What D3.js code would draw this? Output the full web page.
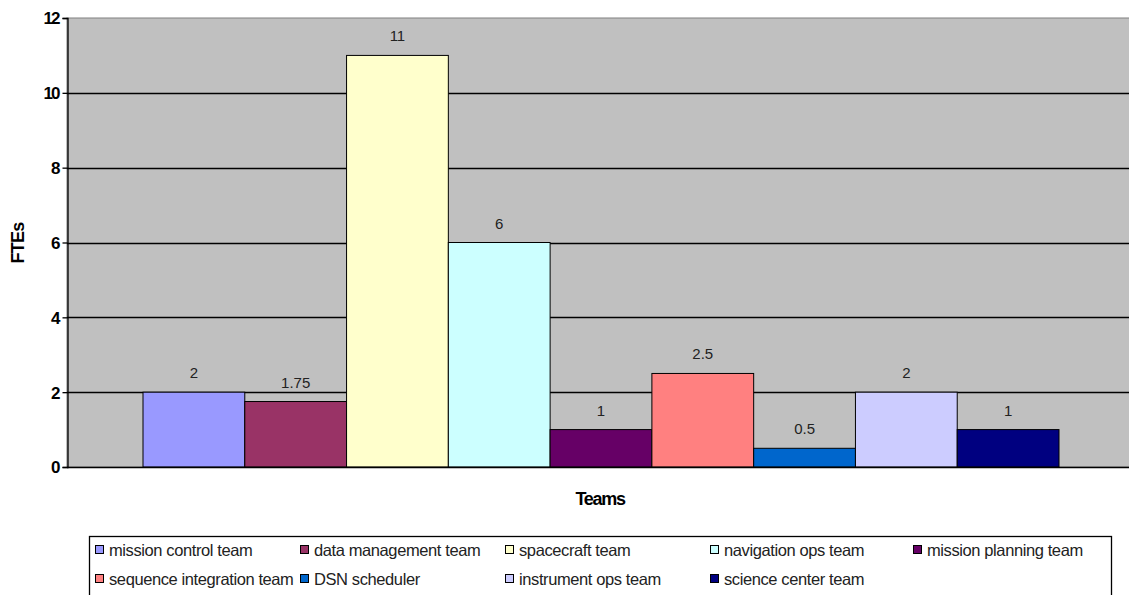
<!DOCTYPE html>
<html>
<head>
<meta charset="utf-8">
<script src="https://cdn.jsdelivr.net/npm/d3@7/dist/d3.min.js"></script>
<style>
  html, body { margin: 0; padding: 0; background: #fff; overflow: hidden; }
  svg { display: block; }
</style>
</head>
<body>
<svg id="chart" width="1129" height="595"></svg>
<script>
// Staffing by team (FTEs)
const teams = [
  "mission control team", "data management team", "spacecraft team",
  "navigation ops team", "mission planning team", "sequence integration team",
  "DSN scheduler", "instrument ops team", "science center team"
];
const ftes = [2, 1.75, 11, 6, 1, 2.5, 0.5, 2, 1];
const colors = [
  "#9999FF", "#993366", "#FFFFCC", "#CCFFFF", "#660066",
  "#FF8080", "#0066CC", "#CCCCFF", "#000080"
];
const yTicks = [0, 2, 4, 6, 8, 10, 12];

const svg = d3.select("#chart");
const plot = { left: 67, right: 1135, top: 18, bottom: 467 };

const y = d3.scaleLinear().domain([0, 12]).range([plot.bottom, plot.top]);

// One category holding nine series, Excel-style gap on both sides
const x = d3.scaleBand().domain(teams)
  .range([143, 1059]).paddingInner(0).paddingOuter(0);

// Plot background
svg.append("rect")
  .attr("x", plot.left).attr("y", plot.top)
  .attr("width", plot.right - plot.left).attr("height", plot.bottom - plot.top)
  .attr("fill", "#C0C0C0")
  .attr("stroke", "#808080").attr("stroke-width", 1);

// Gridlines
svg.append("g").selectAll("line")
  .data(yTicks.filter(t => t > 0 && t < 12))
  .join("line")
  .attr("x1", plot.left).attr("x2", plot.right)
  .attr("y1", d => Math.round(y(d)) + 0.5).attr("y2", d => Math.round(y(d)) + 0.5)
  .attr("stroke", "#000").attr("stroke-width", 1.3);

// Bars
svg.append("g").selectAll("rect")
  .data(teams)
  .join("rect")
  .attr("x", d => x(d))
  .attr("y", (d, i) => y(ftes[i]))
  .attr("width", x.bandwidth())
  .attr("height", (d, i) => y(0) - y(ftes[i]))
  .attr("fill", (d, i) => colors[i])
  .attr("stroke", "#000").attr("stroke-width", 1);

// Value labels
svg.append("g").selectAll("text")
  .data(teams)
  .join("text")
  .attr("x", d => x(d) + x.bandwidth() / 2)
  .attr("y", (d, i) => y(ftes[i]) - 14)
  .attr("text-anchor", "middle")
  .attr("font-family", "Liberation Sans, Arial, sans-serif")
  .attr("font-size", 15)
  .attr("fill", "#222")
  .text((d, i) => ftes[i]);

// Y axis
const yAxis = d3.axisLeft(y).tickValues(yTicks).tickSize(5).tickFormat(d3.format("d"));
const ag = svg.append("g")
  .attr("transform", `translate(${plot.left + 0.5},0)`)
  .call(yAxis);
ag.select(".domain").attr("stroke", "#000").attr("stroke-width", 1.3);
ag.selectAll(".tick line").attr("stroke", "#000").attr("stroke-width", 1.3);
ag.selectAll(".tick text")
  .attr("font-family", "Liberation Sans, Arial, sans-serif")
  .attr("font-size", 17).attr("font-weight", "bold").attr("fill", "#000")
  .attr("x", -9).attr("dy", "0.35em")
  .style("letter-spacing", "-2px");

// X axis baseline
svg.append("line")
  .attr("x1", plot.left).attr("x2", plot.right)
  .attr("y1", plot.bottom + 0.5).attr("y2", plot.bottom + 0.5)
  .attr("stroke", "#000").attr("stroke-width", 1.3);

// Axis titles
svg.append("text")
  .attr("x", 600).attr("y", 505)
  .attr("text-anchor", "middle")
  .attr("font-family", "Liberation Sans, Arial, sans-serif")
  .attr("font-size", 18).attr("font-weight", "bold")
  .style("letter-spacing", "-1.3px")
  .text("Teams");

svg.append("text")
  .attr("transform", "translate(24,243) rotate(-90)")
  .attr("text-anchor", "middle")
  .attr("font-family", "Liberation Sans, Arial, sans-serif")
  .attr("font-size", 18).attr("font-weight", "bold")
  .style("letter-spacing", "-0.8px")
  .text("FTEs");

// Legend
const legend = { x: 89, y: 536, w: 1022, h: 70 };
svg.append("rect")
  .attr("x", legend.x + 0.5).attr("y", legend.y + 0.5)
  .attr("width", legend.w).attr("height", legend.h)
  .attr("fill", "#fff").attr("stroke", "#000").attr("stroke-width", 1.3);

const cols = [95, 300, 505, 710, 913];
const rows = [550, 579];
const items = svg.append("g").selectAll("g")
  .data(teams)
  .join("g")
  .attr("transform", (d, i) => `translate(${cols[i % 5]},${rows[Math.floor(i / 5)]})`);
items.append("rect")
  .attr("x", 0.5).attr("y", -4.5)
  .attr("width", 8).attr("height", 8)
  .attr("fill", (d, i) => colors[i])
  .attr("stroke", "#000").attr("stroke-width", 1);
items.append("text")
  .attr("x", 14).attr("y", 0).attr("dy", "0.35em")
  .attr("font-family", "Liberation Sans, Arial, sans-serif")
  .attr("font-size", 16.5).attr("fill", "#222")
  .style("letter-spacing", "-0.4px")
  .text(d => d);
</script>
</body>
</html>
